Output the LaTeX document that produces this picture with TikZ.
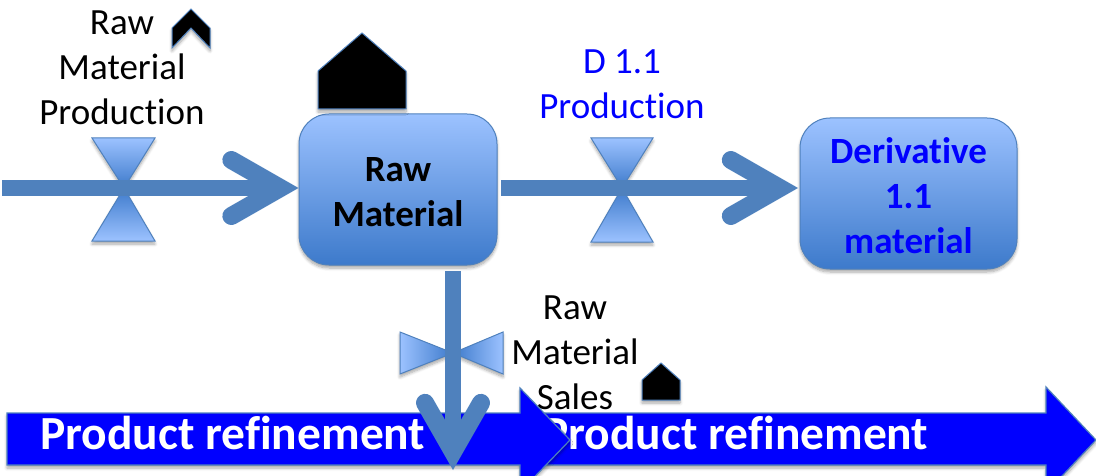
\documentclass[tikz,border=0pt]{standalone}
\usepackage{fontspec}
\setmainfont[Ligatures=CommonOff]{Carlito}
\usetikzlibrary{arrows.meta,shadows.blur,calc}
\definecolor{flow}{HTML}{4F81BD}
\definecolor{lightb}{HTML}{9CC2FF}
\definecolor{darkb}{HTML}{3D7ACB}
\tikzset{
  softshadow/.style={blur shadow={shadow xshift=0pt,shadow yshift=-3pt,shadow blur radius=3pt,shadow blur steps=6,shadow opacity=35}},
  stock/.style={draw=flow,line width=1pt,rounded corners=30pt,top color=lightb,bottom color=darkb,softshadow,
    align=center,inner sep=0pt,minimum width=198pt,minimum height=151pt,font=\fontsize{37}{45}\selectfont\bfseries},
  label/.style={align=center,inner sep=0pt,font=\fontsize{37}{45}\selectfont},
  flowline/.style={draw=flow,line width=16pt,
    -{Straight Barb[length=49pt,width=56pt,line width=18pt,line cap=round,line join=miter]}},
  valveV/.style={draw=flow,line width=1pt,softshadow},
  house/.style={draw=flow,line width=1pt,fill=black,softshadow},
  band/.style={draw=flow,line width=1.2pt,fill=blue,softshadow},
  bandtext/.style={anchor=base west,inner sep=0pt,text=white,font=\fontsize{47.5}{50}\selectfont\bfseries},
}
\begin{document}
\begin{tikzpicture}[x=1pt,y=-1pt]
\useasboundingbox (0,0) rectangle (1096,476);
\clip (0,0) rectangle (1096,476);
% bands
\draw[band] (520,413) -- (1046,413) -- (1046,387) -- (1096,440) -- (1046,493) -- (1046,465) -- (520,465) -- cycle;
\node[bandtext] (band2) at (543,449) {Product refinement};
% labels beneath the band head
\node[label] (lsales) at (575,353) {Raw\\Material\\Sales};
\draw[band] (7,413) -- (520,413) -- (520,388) -- (570,440) -- (520,492) -- (520,465) -- (7,465) -- cycle;
\node[bandtext] (band1) at (40,449) {Product refinement};
% stocks
\node[stock] (raw) at (398,189.5) {\rule{0pt}{29pt}Raw\\Material};
\node[stock,text=blue,minimum width=217pt] (deriv) at (908.5,193.5) {\rule{0pt}{31pt}Derivative\\1.1\\material};
% valves
\draw[valveV,top color=lightb,bottom color=darkb] (92,138) -- (155,138) -- (124,188) -- cycle;
\draw[valveV,top color=darkb,bottom color=lightb] (92,241) -- (155,241) -- (124,188) -- cycle;
\draw[valveV,top color=lightb,bottom color=darkb] (591,138) -- (653,138) -- (622,188) -- cycle;
\draw[valveV,top color=darkb,bottom color=lightb] (591,242) -- (653,242) -- (622,188) -- cycle;
\draw[valveV,left color=lightb,right color=darkb] (400,332) -- (400,374) -- (453,353) -- cycle;
\draw[valveV,left color=darkb,right color=lightb] (503,332) -- (503,374) -- (453,353) -- cycle;
% connectors
\coordinate (src1) at (2,188);
\coordinate (src2) at (501,188);
\coordinate (vin) at (453,271);
\coordinate (vout) at (453,470);
\coordinate (rawin) at (raw.west |- src1);
\coordinate (derivin) at (798,188);
\draw[flowline] (src1) -- (rawin);
\draw[flowline] (src2) -- (derivin);
\draw[flowline] (vin) -- (vout);
% labels
\node[label] (lprod) at (122,68) {Raw\\Material\\Production};
\node[label,text=blue] (ld) at (622,84) {D 1.1\\Production};
% black markers
\draw[house] (318,109) -- (318,71) -- (362,33) -- (406,71) -- (406,109) -- cycle;
\draw[house] (642,400) -- (642,380) -- (661,363) -- (680,380) -- (680,400) -- cycle;
\draw[house] (172,28) -- (191,9) -- (210,28) -- (210,48) -- (191,28) -- (172,48) -- cycle;
\end{tikzpicture}
\end{document}
